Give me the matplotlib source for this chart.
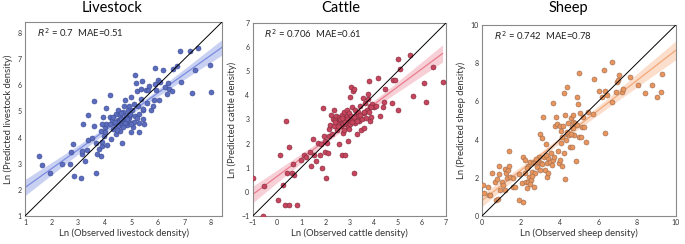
import numpy as np
import matplotlib
matplotlib.use('Agg')
import matplotlib.pyplot as plt

# observed / predicted values (ln density)
livestock_obs = [1.54, 1.63, 1.94, 2.39, 2.71, 2.73, 2.81, 2.84, 3.1, 3.13, 3.13, 3.2, 3.25, 3.34, 3.39, 3.38,
                 3.53, 3.59, 3.61, 3.66, 3.66, 3.71, 3.78, 3.85, 3.88, 3.91, 3.91, 3.94, 3.96, 4.0, 4.04, 4.06,
                 4.19, 4.19, 4.25, 4.29, 4.31, 4.38, 4.41, 4.44, 4.5, 4.5, 4.54, 4.56, 4.59, 4.63, 4.64, 4.66,
                 4.69, 4.71, 4.72, 4.75, 4.79, 4.81, 4.84, 4.88, 4.91, 4.94, 4.96, 5.0, 5.0, 5.04, 5.06, 5.09,
                 5.13, 5.16, 5.19, 5.21, 5.25, 5.29, 5.31, 5.38, 5.38, 5.41, 5.44, 5.46, 5.5, 5.56, 5.59, 5.63,
                 5.66, 5.75, 5.81, 5.85, 5.89, 5.91, 5.94, 6.0, 6.06, 6.09, 6.19, 6.29, 6.35, 6.38, 6.44, 6.56,
                 6.71, 6.54, 6.85, 6.89, 7.23, 7.29, 7.39, 7.53, 7.98, 8.01,
                 4.4, 4.6, 4.75, 4.85, 4.5, 4.3, 4.95, 5.1, 5.2, 4.2, 4.6, 4.7, 4.0, 3.9, 5.3, 5.45, 4.1, 4.45,
                 4.9, 5.0]
livestock_pred = [3.29, 2.94, 2.64, 2.98, 2.98, 3.45, 3.77, 2.52, 2.44, 3.36, 3.48, 4.53, 3.11, 3.52, 3.9, 4.85,
                  3.99, 4.43, 5.38, 2.63, 3.8, 3.39, 3.58, 4.24, 3.29, 3.68, 3.83, 4.79, 4.05, 4.4, 4.51, 5.13,
                  5.64, 4.79, 3.96, 4.66, 4.34, 4.53, 4.91, 4.15, 5.04, 4.68, 4.63, 4.85, 4.25, 4.49, 3.8, 4.72,
                  4.97, 4.6, 5.19, 5.42, 4.85, 4.66, 4.47, 5.04, 4.76, 4.85, 4.56, 4.21, 5.55, 5.04, 4.41, 5.29,
                  4.81, 6.41, 6.08, 5.78, 5.19, 4.91, 4.21, 5.86, 5.49, 6.16, 5.04, 4.72, 4.51, 5.83, 5.32, 5.83,
                  5.96, 5.04, 5.19, 5.45, 6.65, 6.06, 5.83, 6.19, 5.42, 6.12, 6.57, 5.93, 5.65, 6.07, 5.87, 6.63,
                  6.72, 5.77, 7.33, 6.12, 7.33, 5.71, 6.59, 7.43, 6.78, 5.76,
                  4.6, 4.7, 4.55, 4.7, 4.45, 4.8, 4.9, 4.6, 4.75, 4.5, 4.95, 4.4, 4.2, 4.5, 4.55, 5.1, 3.7, 4.3,
                  5.2, 4.5]

cattle_obs = [-1.0, -0.54, -0.57, 0.03, 0.14, 0.24, 0.34, 0.38, 0.42, 0.49, 0.49, 0.61, 0.67, 0.72, 0.83, 1.0,
              1.11, 1.21, 1.39, 1.41, 1.48, 1.55, 1.62, 1.72, 1.8, 1.83, 1.86, 1.9, 1.94, 1.98, 2.01, 2.02,
              2.08, 2.1, 2.14, 2.17, 2.21, 2.24, 2.27, 2.31, 2.35, 2.38, 2.41, 2.45, 2.49, 2.52, 2.56, 2.59,
              2.63, 2.66, 2.68, 2.7, 2.72, 2.75, 2.77, 2.79, 2.82, 2.83, 2.86, 2.89, 2.92, 2.93, 2.96, 2.97,
              3.0, 3.03, 3.04, 3.07, 3.08, 3.11, 3.14, 3.17, 3.18, 3.21, 3.23, 3.25, 3.28, 3.3, 3.34, 3.37,
              3.41, 3.46, 3.48, 3.52, 3.55, 3.59, 3.62, 3.65, 3.69, 3.73, 3.76, 3.79, 3.83, 3.86, 3.87, 3.9,
              3.92, 4.03, 4.1, 4.2, 4.26, 4.39, 4.45, 4.49, 4.77, 4.82, 4.89, 5.03, 5.03, 5.1, 5.5, 5.62,
              6.08, 6.17, 6.48, 6.86,
              2.6, 2.9, 3.1, 3.2, 2.8, 3.0, 3.3, 2.7, 3.45, 2.55, 3.6, 3.8, 2.4, 3.9]
cattle_pred = [0.57, 0.25, -1.0, -0.33, 1.51, 0.27, -0.54, 2.92, 0.77, -0.54, 1.84, 0.77, 1.16, 0.68, -0.54, 1.33,
               1.51, 1.44, 1.65, 1.09, 2.19, 1.53, 1.26, 2.02, 1.53, 2.0, 0.98, 3.47, 2.32, 2.09, 1.67, 0.59,
               2.02, 1.6, 2.6, 2.3, 2.78, 3.2, 2.41, 3.02, 3.4, 2.71, 2.99, 3.16, 2.57, 2.85, 1.98, 3.1,
               2.96, 2.74, 1.53, 3.2, 2.43, 2.82, 3.29, 2.57, 3.06, 1.53, 2.82, 3.4, 3.16, 2.68, 2.09, 2.99,
               3.27, 3.92, 2.82, 4.35, 3.13, 3.5, 4.19, 3.02, 0.77, 4.26, 3.4, 2.85, 3.2, 2.39, 3.29, 3.13,
               2.92, 3.54, 2.57, 3.02, 3.89, 2.64, 3.27, 3.68, 3.06, 3.4, 3.83, 4.07, 4.58, 2.92, 3.57, 3.1,
               3.65, 3.52, 3.57, 4.72, 3.13, 3.5, 3.71, 4.26, 3.68, 4.62, 4.62, 3.38, 5.52, 5.11, 5.69, 3.96,
               4.51, 3.71, 5.18, 4.54,
               3.0, 3.0, 2.9, 3.1, 2.9, 2.6, 2.95, 3.05, 3.2, 2.75, 3.3, 3.3, 2.9, 3.5]

sheep_obs = [0.05, 0.09, 0.29, 0.34, 0.43, 0.51, 0.65, 0.72, 0.77, 0.82, 0.86, 0.89, 0.94, 1.03, 1.11, 1.17,
             1.2, 1.23, 1.29, 1.34, 1.37, 1.41, 1.46, 1.58, 1.72, 1.89, 2.06, 2.11, 2.14, 2.2, 2.23, 2.28,
             2.32, 2.37, 2.4, 2.44, 2.49, 2.54, 2.57, 2.61, 2.66, 2.71, 2.74, 2.83, 2.92, 2.95, 3.0, 3.05,
             3.12, 3.17, 3.21, 3.26, 3.29, 3.34, 3.36, 3.4, 3.43, 3.52, 3.55, 3.6, 3.64, 3.69, 3.77, 3.83,
             3.86, 3.91, 3.95, 4.0, 4.03, 4.08, 4.12, 4.15, 4.2, 4.24, 4.25, 4.29, 4.29, 4.34, 4.37, 4.41,
             4.46, 4.49, 4.55, 4.58, 4.63, 4.67, 4.68, 4.72, 4.77, 4.8, 4.85, 4.89, 4.92, 4.97, 5.01, 5.03,
             5.06, 5.11, 5.15, 5.2, 5.28, 5.37, 5.49, 5.71, 5.8, 6.04, 6.17, 6.31, 6.35, 6.35, 6.43, 6.69,
             6.72, 6.91, 6.98, 7.03, 7.08, 7.2, 7.26, 7.63, 8.03, 8.4, 8.78, 9.04, 9.26, 9.31,
             2.8, 3.1, 2.6, 3.3, 4.4, 4.6, 4.7, 2.3, 3.7, 4.1, 2.5, 1.9, 1.6, 3.0]
sheep_pred = [1.62, 1.19, 1.54, 1.1, 1.1, 2.23, 1.8, 0.84, 1.94, 0.87, 2.62, 2.2, 1.36, 1.8, 1.62, 2.44,
              1.36, 2.23, 1.97, 2.41, 3.4, 2.62, 2.06, 1.54, 1.54, 0.84, 1.75, 3.07, 0.75, 2.23, 2.93, 1.8,
              1.45, 2.62, 1.8, 2.06, 2.84, 1.88, 2.32, 2.76, 1.5, 2.27, 2.81, 2.58, 3.11, 2.84, 4.29, 2.79,
              4.07, 5.2, 3.11, 2.41, 3.77, 2.06, 2.76, 2.23, 3.02, 2.84, 3.28, 2.67, 5.9, 2.93, 4.71, 5.17,
              4.82, 3.42, 2.76, 4.71, 2.93, 3.8, 4.15, 2.62, 4.71, 6.46, 3.28, 5.29, 1.92, 3.98, 6.74, 4.29,
              4.89, 4.24, 3.63, 5.11, 4.68, 3.6, 5.29, 4.94, 4.24, 4.85, 2.9, 6.25, 4.76, 5.86, 4.15, 7.47,
              5.38, 4.15, 4.68, 5.17, 4.64, 3.89, 5.46, 5.34, 7.19, 6.56, 6.25, 7.64, 6.56, 4.33, 6.34, 5.99,
              8.05, 6.51, 7.03, 7.12, 7.38, 6.51, 6.63, 7.26, 6.86, 6.42, 6.86, 6.25, 6.49, 7.42,
              3.0, 2.7, 2.1, 3.2, 4.4, 4.3, 4.6, 2.5, 3.1, 4.45, 1.7, 2.2, 2.0, 2.4]

titles = ['Livestock', 'Cattle', 'Sheep']
xlabels = ['Ln (Observed livestock density)', 'Ln (Observed cattle density)', 'Ln (Observed sheep density)']
ylabels = ['Ln (Predicted livestock density)', 'Ln (Predicted cattle density)', 'Ln (Predicted sheep density)']
stats = ['$R^2$ = 0.7  MAE=0.51', '$R^2$ = 0.706  MAE=0.61', '$R^2$ = 0.742  MAE=0.78']

# styling per panel
lims = [(1, 8.42), (-1, 7), (0, 10)]
fit_range = [(1, 8.42), (-1, 6.86), (0, 10)]
ticks = [np.arange(1, 9), np.arange(-1, 8), np.arange(0, 11, 2)]
dot_fc = ['#5D6DBE', '#C7465F', '#E8955E']
dot_ec = ['#3B4A94', '#7E2838', '#9A6A4E']
line_c = ['#7C8DE0', '#E97D8E', '#F4A878']
band_c = ['#B3BEEE', '#F5BDC6', '#FAD0B5']
ax_rects = [[0.0365, 0.1148, 0.2876, 0.795],
            [0.369, 0.1148, 0.282, 0.791],
            [0.7036, 0.1148, 0.283, 0.783]]
title_x = [112/685, 341/685, 568/685]

data = [(livestock_obs, livestock_pred), (cattle_obs, cattle_pred), (sheep_obs, sheep_pred)]

fig = plt.figure(figsize=(6.85, 2.44), dpi=100, facecolor='w')
plt.rcParams['font.family'] = ['Lato', 'DejaVu Sans']
plt.rcParams['mathtext.fontset'] = 'dejavusans'

for ii in range(3):
    xx = np.array(data[ii][0])
    yy = np.array(data[ii][1])
    ax = fig.add_axes(ax_rects[ii])
    lo, hi = lims[ii]

    # OLS fit with 95% band for the mean
    nn = len(xx)
    b1, b0 = np.polyfit(xx, yy, 1)
    resid = yy - (b0 + b1 * xx)
    s_err = np.sqrt(np.sum(resid**2) / (nn - 2))
    xg = np.linspace(fit_range[ii][0], fit_range[ii][1], 100)
    yg = b0 + b1 * xg
    half = 1.97 * s_err * np.sqrt(1/nn + (xg - xx.mean())**2 / np.sum((xx - xx.mean())**2))
    ax.fill_between(xg, yg - half, yg + half, color=band_c[ii], alpha=0.7, lw=0, zorder=1)
    ax.plot(xg, yg, color=line_c[ii], lw=0.9, zorder=2)

    ax.scatter(xx, yy, s=13, c=dot_fc[ii], edgecolors=dot_ec[ii], linewidths=0.4, zorder=3)
    ax.plot([lo, hi], [lo, hi], color='k', lw=0.7, zorder=4)

    ax.set_xlim(lo, hi)
    ax.set_ylim(lo, hi)
    ax.set_xticks(ticks[ii])
    ax.set_yticks(ticks[ii])
    ax.tick_params(labelsize=5, length=0, pad=2.5, colors='#333333')
    for sp in ax.spines.values():
        sp.set_color('#8a8a8a')
        sp.set_linewidth(0.8)
    ax.set_xlabel(xlabels[ii], fontsize=6.8, labelpad=1.5, color='#333333')
    ax.set_ylabel(ylabels[ii], fontsize=6.8, labelpad=3, color='#333333')
    ax.text(0.06, 0.975, stats[ii], transform=ax.transAxes, fontsize=6.8, va='top', color='#222222')
    fig.text(title_x[ii], 0.968, titles[ii], fontsize=10.5, ha='center', va='center')

plt.savefig('out.png', dpi=100)
